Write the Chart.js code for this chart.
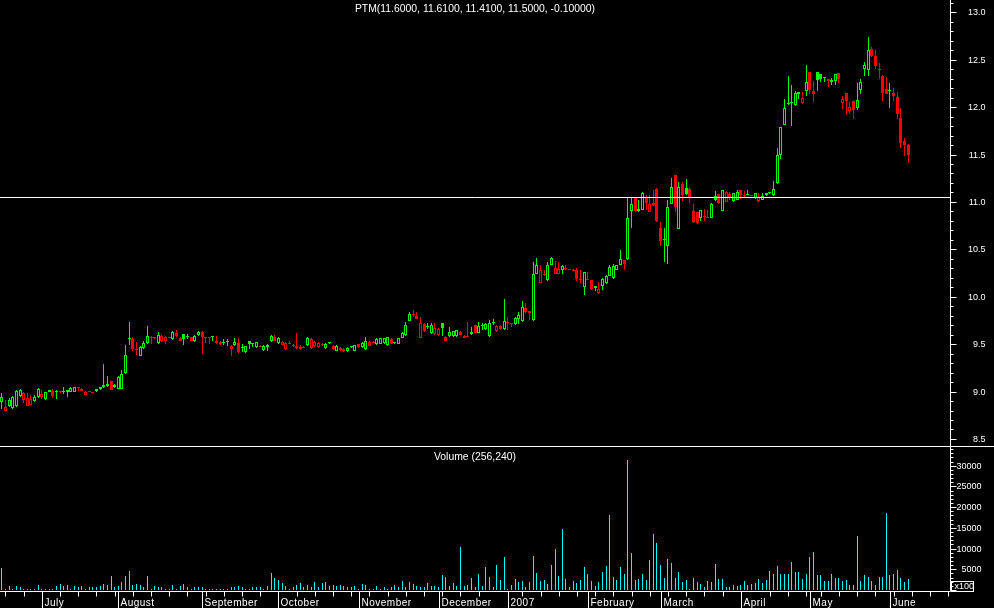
<!DOCTYPE html>
<html>
<head>
<meta charset="utf-8">
<script src="https://cdn.jsdelivr.net/npm/chart.js@4.4.1/dist/chart.umd.min.js"></script>
<style>
  html, body { margin: 0; padding: 0; background: #000; }
  #wrap { width: 994px; height: 608px; }
</style>
</head>
<body>
<div id="wrap"><canvas id="priceChart" width="994" height="608"></canvas></div>
<script>
// PTM daily candles, 16 June 2006 - 8 June 2007
const symbol = 'PTM';
const startDate = '2006-06-16';
const holidays = ['2006-12-25', '2006-12-26', '2007-01-01', '2007-04-06', '2007-04-09', '2007-05-01'];
const slotCount = 261; // trading days on the axis, the last ones stay empty
const monthNames = ['January', 'February', 'March', 'April', 'May', 'June', 'July',
  'August', 'September', 'October', 'November', 'December'];

const openPrices = [
  8.89, 8.79, 8.85, 8.83, 8.85, 8.95, 8.91, 8.85, 8.86, 8.90,
  8.94, 8.94, 8.92, 9.02, 9.01, 8.99, 8.99, 9.00, 9.00, 8.99,
  9.00, 9.04, 9.03, 8.96, 9.00, 9.00, 9.01, 9.03, 9.05, 9.06,
  9.11, 9.07, 9.03, 9.03, 9.20, 9.55, 9.55, 9.45, 9.38, 9.46,
  9.51, 9.58, 9.57, 9.51, 9.53, 9.53, 9.58, 9.55, 9.62, 9.57,
  9.61, 9.58, 9.58, 9.53, 9.60, 9.63, 9.58, 9.57, 9.58, 9.53,
  9.52, 9.51, 9.52, 9.45, 9.49, 9.51, 9.46, 9.42, 9.53, 9.50,
  9.47, 9.48, 9.44, 9.47, 9.53, 9.58, 9.51, 9.49, 9.45, 9.51,
  9.48, 9.46, 9.45, 9.47, 9.49, 9.46, 9.48, 9.47, 9.50, 9.46,
  9.51, 9.48, 9.43, 9.46, 9.45, 9.43, 9.47, 9.43, 9.50, 9.47,
  9.45, 9.48, 9.52, 9.50, 9.50, 9.51, 9.49, 9.55, 9.51, 9.50,
  9.57, 9.60, 9.74, 9.82, 9.80, 9.57, 9.71, 9.68, 9.62, 9.61,
  9.60, 9.72, 9.58, 9.59, 9.59, 9.59, 9.63, 9.57, 9.59, 9.61,
  9.70, 9.62, 9.69, 9.66, 9.59, 9.72, 9.64, 9.69, 9.66, 9.73,
  9.72, 9.71, 9.76, 9.74, 9.88, 9.85, 9.75, 10.24, 10.15, 10.24,
  10.18, 10.33, 10.24, 10.24, 10.28, 10.30, 10.29, 10.28, 10.28, 10.19,
  10.10, 10.19, 10.18, 10.11, 10.04, 10.11, 10.14, 10.22, 10.20, 10.28,
  10.33, 10.39, 10.40, 10.90, 11.04, 10.90, 10.92, 11.05, 10.89, 10.99,
  11.14, 10.73, 10.60, 10.54, 10.98, 11.28, 10.71, 11.19, 11.15, 11.14,
  10.90, 10.89, 10.83, 10.85, 10.84, 10.83, 11.06, 11.08, 10.90, 11.00,
  11.08, 11.01, 11.02, 11.13, 11.07, 11.07, 11.07, 11.04, 11.01, 11.02,
  11.07, 11.09, 11.07, 11.20, 11.49, 11.81, 12.03, 12.04, 12.02, 12.14,
  12.04, 12.17, 12.37, 12.17, 12.37, 12.35, 12.32, 12.30, 12.27, 12.28,
  12.36, 12.04, 12.15, 11.96, 12.06, 11.99, 12.18, 12.40, 12.39, 12.61,
  12.54, 12.40, 12.33, 12.19, 12.17, 12.15, 12.11, 11.89, 11.64, 11.60
];
const highPrices = [
  8.98, 8.91, 8.93, 8.95, 9.02, 9.03, 9.00, 8.98, 8.96, 8.96,
  9.04, 9.02, 9.00, 9.02, 9.03, 9.02, 9.00, 9.05, 9.02, 9.05,
  9.05, 9.05, 9.04, 9.01, 9.01, 9.00, 9.03, 9.05, 9.29, 9.16,
  9.11, 9.08, 9.16, 9.23, 9.49, 9.73, 9.58, 9.52, 9.48, 9.53,
  9.69, 9.59, 9.58, 9.63, 9.60, 9.59, 9.58, 9.64, 9.65, 9.58,
  9.61, 9.61, 9.58, 9.60, 9.64, 9.64, 9.58, 9.58, 9.59, 9.59,
  9.53, 9.55, 9.55, 9.49, 9.56, 9.57, 9.50, 9.48, 9.53, 9.51,
  9.52, 9.49, 9.49, 9.50, 9.60, 9.60, 9.58, 9.53, 9.52, 9.53,
  9.50, 9.62, 9.49, 9.48, 9.58, 9.57, 9.53, 9.52, 9.51, 9.51,
  9.52, 9.49, 9.49, 9.47, 9.46, 9.47, 9.48, 9.49, 9.50, 9.52,
  9.58, 9.53, 9.53, 9.56, 9.56, 9.57, 9.58, 9.56, 9.52, 9.57,
  9.63, 9.73, 9.84, 9.86, 9.84, 9.79, 9.72, 9.72, 9.72, 9.72,
  9.67, 9.72, 9.59, 9.68, 9.64, 9.65, 9.64, 9.60, 9.73, 9.68,
  9.70, 9.73, 9.72, 9.72, 9.75, 9.77, 9.70, 9.70, 9.98, 9.79,
  9.72, 9.79, 9.84, 9.95, 9.93, 9.85, 10.37, 10.41, 10.34, 10.28,
  10.37, 10.42, 10.38, 10.37, 10.33, 10.33, 10.29, 10.29, 10.30, 10.28,
  10.26, 10.26, 10.18, 10.11, 10.16, 10.20, 10.23, 10.33, 10.35, 10.34,
  10.49, 10.39, 11.04, 11.04, 11.04, 11.02, 11.11, 11.07, 11.07, 11.13,
  11.15, 10.79, 10.73, 11.02, 11.25, 11.28, 11.21, 11.21, 11.24, 11.15,
  10.98, 10.89, 10.91, 10.93, 10.91, 10.99, 11.12, 11.08, 11.13, 11.12,
  11.11, 11.09, 11.13, 11.13, 11.12, 11.13, 11.07, 11.09, 11.09, 11.09,
  11.09, 11.11, 11.22, 11.57, 11.79, 12.09, 12.33, 12.23, 12.17, 12.16,
  12.16, 12.44, 12.37, 12.28, 12.37, 12.35, 12.32, 12.30, 12.31, 12.35,
  12.36, 12.12, 12.15, 12.05, 12.06, 12.25, 12.30, 12.48, 12.74, 12.63,
  12.60, 12.47, 12.34, 12.32, 12.25, 12.20, 12.16, 11.99, 11.67, 11.61
];
const lowPrices = [
  8.82, 8.79, 8.84, 8.82, 8.84, 8.94, 8.88, 8.85, 8.86, 8.89,
  8.93, 8.92, 8.91, 8.99, 8.93, 8.92, 8.98, 8.97, 8.94, 8.99,
  8.99, 9.01, 9.01, 8.96, 8.99, 8.98, 9.00, 9.02, 9.04, 9.05,
  9.02, 9.04, 9.03, 9.03, 9.19, 9.49, 9.43, 9.39, 9.37, 9.45,
  9.50, 9.50, 9.55, 9.50, 9.52, 9.50, 9.56, 9.54, 9.58, 9.53,
  9.49, 9.55, 9.53, 9.52, 9.59, 9.40, 9.51, 9.50, 9.53, 9.50,
  9.49, 9.49, 9.48, 9.38, 9.48, 9.41, 9.42, 9.41, 9.45, 9.47,
  9.46, 9.47, 9.43, 9.43, 9.52, 9.53, 9.50, 9.49, 9.44, 9.50,
  9.47, 9.45, 9.44, 9.46, 9.48, 9.45, 9.47, 9.46, 9.48, 9.45,
  9.50, 9.44, 9.43, 9.43, 9.42, 9.42, 9.46, 9.43, 9.46, 9.46,
  9.44, 9.48, 9.51, 9.49, 9.50, 9.50, 9.48, 9.50, 9.50, 9.50,
  9.57, 9.59, 9.74, 9.79, 9.76, 9.57, 9.63, 9.66, 9.61, 9.60,
  9.59, 9.59, 9.53, 9.58, 9.58, 9.58, 9.60, 9.57, 9.58, 9.60,
  9.62, 9.62, 9.65, 9.65, 9.58, 9.70, 9.63, 9.65, 9.65, 9.65,
  9.68, 9.70, 9.71, 9.73, 9.83, 9.75, 9.74, 10.24, 10.14, 10.22,
  10.17, 10.33, 10.24, 10.24, 10.24, 10.28, 10.28, 10.27, 10.17, 10.14,
  10.02, 10.18, 10.07, 10.06, 10.03, 10.07, 10.13, 10.22, 10.19, 10.28,
  10.33, 10.28, 10.39, 10.73, 10.89, 10.89, 10.91, 10.91, 10.89, 10.96,
  10.79, 10.53, 10.37, 10.35, 10.98, 10.89, 10.71, 11.01, 11.07, 10.99,
  10.78, 10.77, 10.80, 10.80, 10.83, 10.83, 11.01, 10.98, 10.90, 11.00,
  11.02, 11.00, 11.02, 11.03, 11.05, 11.07, 11.06, 11.03, 11.00, 11.02,
  11.06, 11.08, 11.06, 11.19, 11.45, 11.81, 12.02, 11.80, 12.01, 12.09,
  12.03, 12.12, 12.14, 12.05, 12.17, 12.27, 12.27, 12.21, 12.23, 12.23,
  12.25, 11.98, 11.92, 11.93, 11.87, 11.97, 12.14, 12.33, 12.33, 12.53,
  12.40, 12.30, 12.06, 12.14, 11.99, 12.06, 11.87, 11.57, 11.48, 11.41
];
const closePrices = [
  8.94, 8.84, 8.91, 8.94, 9.01, 9.02, 8.98, 8.93, 8.92, 8.94,
  9.03, 8.97, 8.99, 9.00, 8.95, 9.01, 8.99, 9.01, 9.02, 9.04,
  9.05, 9.04, 9.01, 9.00, 8.99, 8.98, 9.03, 9.05, 9.07, 9.08,
  9.02, 9.05, 9.15, 9.18, 9.39, 9.56, 9.45, 9.44, 9.47, 9.51,
  9.59, 9.57, 9.56, 9.60, 9.59, 9.58, 9.57, 9.63, 9.59, 9.53,
  9.55, 9.59, 9.53, 9.59, 9.63, 9.58, 9.57, 9.56, 9.59, 9.51,
  9.50, 9.52, 9.53, 9.48, 9.52, 9.42, 9.47, 9.48, 9.50, 9.51,
  9.52, 9.47, 9.48, 9.49, 9.59, 9.53, 9.57, 9.52, 9.51, 9.50,
  9.49, 9.48, 9.47, 9.46, 9.57, 9.55, 9.52, 9.51, 9.49, 9.50,
  9.52, 9.45, 9.48, 9.44, 9.43, 9.46, 9.48, 9.49, 9.47, 9.51,
  9.53, 9.52, 9.51, 9.55, 9.56, 9.57, 9.58, 9.50, 9.52, 9.56,
  9.62, 9.70, 9.82, 9.81, 9.76, 9.72, 9.64, 9.69, 9.70, 9.67,
  9.66, 9.67, 9.53, 9.63, 9.64, 9.65, 9.60, 9.59, 9.58, 9.63,
  9.62, 9.69, 9.70, 9.71, 9.72, 9.73, 9.69, 9.66, 9.74, 9.72,
  9.71, 9.78, 9.81, 9.89, 9.84, 9.83, 10.24, 10.33, 10.28, 10.23,
  10.33, 10.41, 10.30, 10.29, 10.32, 10.29, 10.28, 10.27, 10.19, 10.18,
  10.26, 10.18, 10.08, 10.09, 10.08, 10.19, 10.22, 10.31, 10.32, 10.33,
  10.40, 10.35, 10.83, 10.98, 10.90, 10.93, 11.09, 10.99, 10.98, 10.97,
  10.80, 10.59, 10.61, 10.95, 11.16, 10.95, 11.16, 11.07, 11.08, 11.05,
  10.79, 10.78, 10.91, 10.84, 10.83, 10.98, 11.02, 10.99, 11.13, 11.11,
  11.04, 11.09, 11.10, 11.07, 11.06, 11.08, 11.06, 11.09, 11.05, 11.06,
  11.09, 11.10, 11.14, 11.49, 11.79, 11.99, 12.04, 12.05, 12.15, 12.16,
  12.10, 12.27, 12.18, 12.14, 12.29, 12.30, 12.31, 12.28, 12.29, 12.35,
  12.30, 12.09, 12.06, 12.00, 11.97, 12.07, 12.27, 12.44, 12.60, 12.54,
  12.43, 12.39, 12.15, 12.14, 12.18, 12.12, 11.93, 11.62, 11.60, 11.50
];
// volume, in hundreds of shares
const volumes = [
  5400, 200, 920, 200, 920, 690, 200, 200, 200, 200,
  1160, 200, 200, 200, 200, 920, 1390, 920, 1160, 200,
  920, 690, 920, 200, 690, 690, 690, 920, 1390, 1230,
  3280, 690, 920, 1860, 3280, 4590, 1160, 1390, 1160, 690,
  3280, 200, 920, 690, 690, 200, 200, 1160, 200, 920,
  1390, 690, 200, 690, 690, 690, 200, 200, 200, 200,
  200, 200, 200, 690, 690, 920, 690, 200, 200, 690,
  690, 690, 200, 920, 4200, 2800, 2330, 1620, 920, 200,
  690, 1160, 1620, 690, 1160, 690, 1860, 690, 1620, 1860,
  920, 1160, 920, 1160, 920, 690, 690, 920, 200, 1390,
  1160, 200, 200, 920, 200, 690, 200, 690, 1160, 690,
  2100, 690, 1860, 1390, 920, 690, 690, 1620, 920, 920,
  690, 3510, 3040, 920, 1620, 920, 10360, 920, 1160, 2800,
  690, 3980, 920, 5630, 3040, 690, 6150, 2410, 7990, 200,
  1160, 2570, 1940, 2250, 690, 1940, 8230, 4220, 2100, 2330,
  1390, 6100, 9870, 3280, 14830, 2570, 690, 2100, 1620, 2330,
  5630, 3750, 2100, 920, 1860, 4450, 5860, 18120, 3040, 2330,
  5630, 3980, 31340, 8940, 2330, 2570, 3750, 2330, 7290, 13420,
  11300, 6100, 2800, 7520, 6580, 2800, 4450, 1860, 2330, 200,
  2800, 1860, 1390, 690, 2100, 1860, 6340, 2570, 2570, 690,
  690, 1160, 920, 1160, 2100, 1160, 1390, 1620, 2570, 1620,
  2330, 4690, 3980, 5860, 3750, 3980, 3750, 6820, 4450, 4450,
  2570, 3980, 7990, 9170, 3510, 3510, 2100, 2100, 3750, 2800,
  2800, 2100, 2330, 1160, 1160, 12950, 2100, 3510, 3040, 2100,
  1160, 3040, 3040, 18590, 3510, 3750, 4930, 2800, 1860, 2562.4
];

const priceTicks = [8.5, 9.0, 9.5, 10.0, 10.5, 11.0, 11.5, 12.0, 12.5, 13.0];
const volumeTicks = [5000, 10000, 15000, 20000, 25000, 30000];
const lineLevel = 11.05; // horizontal line drawn across the price panel

const upColor = '#00ff00';
const downColor = '#ff0000';
const volColor = '#00ffff';
const axisFamily = '"Liberation Sans Narrow", "Arial Narrow", "Liberation Sans", Arial, sans-serif';
const textFamily = '"Liberation Sans", Arial, sans-serif';

// trading days (weekdays, exchange holidays left out)
function buildTradingDays(start, count, skip) {
  const days = [];
  const d = new Date(start + 'T00:00:00Z');
  while (days.length < count) {
    const dow = d.getUTCDay();
    const iso = d.toISOString().slice(0, 10);
    if (dow !== 0 && dow !== 6 && !skip.includes(iso)) days.push(new Date(d));
    d.setUTCDate(d.getUTCDate() + 1);
  }
  return days;
}
const tradingDays = buildTradingDays(startDate, slotCount, holidays);
const dayLabels = tradingDays.map(d => d.toISOString().slice(0, 10));

// green when the close is up on the day before, hollow when close > open
const barColors = closePrices.map((c, i) => (i === 0 || c >= closePrices[i - 1]) ? upColor : downColor);

const last = closePrices.length - 1;
const titleText = symbol + '(' + openPrices[last].toFixed(4) + ', ' + highPrices[last].toFixed(4) + ', ' +
  lowPrices[last].toFixed(4) + ', ' + closePrices[last].toFixed(4) + ', ' +
  (closePrices[last] - closePrices[last - 1]).toFixed(5) + ')';
const volumeTitle = 'Volume (' + Math.round(volumes[last] * 100).toLocaleString('en-US') + ')';

const axisWidth = 44;

function fixWidth(scale) {
  scale.width = axisWidth;
  scale.paddingTop = 0;
  scale.paddingBottom = 0;
}

const backdrop = {
  id: 'backdrop',
  beforeDraw(chart) {
    const ctx = chart.ctx;
    ctx.save();
    ctx.fillStyle = '#000';
    ctx.fillRect(0, 0, chart.width, chart.height);
    ctx.restore();
  }
};

// snap bars to whole pixels so the 1px wicks and 3px bodies stay sharp
const pixelSnap = {
  id: 'pixelSnap',
  beforeDatasetsDraw(chart) {
    chart.data.datasets.forEach((ds, di) => {
      chart.getDatasetMeta(di).data.forEach(el => {
        const w = Math.round(el.width);
        el.x = w % 2 ? Math.floor(el.x) + 0.5 : Math.round(el.x);
        el.y = Math.round(el.y);
        el.base = Math.round(el.base);
        if (Math.abs(el.base - el.y) < 1) el.y = el.base - 1;
      });
    });
  }
};

function tickMarks(ctx, scale, x0, from, to, step, majorStep) {
  const n = Math.round((to - from) / step);
  for (let k = 0; k <= n; k++) {
    const v = from + k * step;
    const py = Math.round(scale.getPixelForValue(v)) + 0.5;
    if (py < scale.top || py > scale.bottom) continue;
    const major = Math.abs(v / majorStep - Math.round(v / majorStep)) < 1e-6;
    ctx.moveTo(x0, py);
    ctx.lineTo(x0 + (major ? 6 : 3), py);
  }
}

function tickLabels(ctx, scale, values, xRight, fmt) {
  values.forEach(v => ctx.fillText(fmt(v), xRight, Math.round(scale.getPixelForValue(v)) + 1));
}

const frame = {
  id: 'frame',
  afterDraw(chart) {
    const {ctx, chartArea: area} = chart;
    const {x, y, yVol} = chart.scales;
    const axisX = Math.round(area.right) + 0.5;
    const bottom = Math.round(area.bottom) + 0.5;
    const split = Math.round(yVol.top) - 0.5;
    ctx.save();
    ctx.strokeStyle = '#ffffff';
    ctx.fillStyle = '#ffffff';
    ctx.lineWidth = 1;
    ctx.beginPath();
    const hy = Math.round(y.getPixelForValue(lineLevel)) + 0.5;
    ctx.moveTo(area.left, hy); ctx.lineTo(axisX, hy);
    ctx.moveTo(0, split); ctx.lineTo(chart.width, split);
    ctx.moveTo(axisX, 0); ctx.lineTo(axisX, bottom);
    ctx.moveTo(area.left, bottom); ctx.lineTo(axisX, bottom);
    tickMarks(ctx, y, axisX, 8.4, 13.1, 0.1, 0.5);
    tickMarks(ctx, yVol, axisX, 0, 34000, 1000, 5000);

    // value labels of both panels, right aligned
    ctx.font = '9px ' + axisFamily;
    ctx.textAlign = 'right';
    ctx.textBaseline = 'middle';
    tickLabels(ctx, y, priceTicks, axisX + 35, v => v.toFixed(1));
    tickLabels(ctx, yVol, volumeTicks, axisX + 31, v => String(v));

    // date axis: long tick at each month start, short tick on Mondays
    ctx.font = '10px ' + textFamily;
    ctx.textAlign = 'left';
    ctx.textBaseline = 'alphabetic';
    if ('letterSpacing' in ctx) ctx.letterSpacing = '0.5px';
    const labels = [];
    tradingDays.forEach((d, i) => {
      const px = Math.round(x.getPixelForValue(i)) + 0.5;
      const newMonth = i > 0 && d.getUTCMonth() !== tradingDays[i - 1].getUTCMonth();
      if (newMonth) {
        ctx.moveTo(px, bottom); ctx.lineTo(px, chart.height);
        const m = d.getUTCMonth();
        labels.push([m === 0 ? String(d.getUTCFullYear()) : monthNames[m], px + 2]);
      } else if (d.getUTCDay() === 1) {
        ctx.moveTo(px, bottom); ctx.lineTo(px, bottom + 5);
      }
    });
    ctx.stroke();
    labels.forEach(([t, lx]) => ctx.fillText(t, lx, chart.height - 2));
    if ('letterSpacing' in ctx) ctx.letterSpacing = '0px';

    // panel titles
    ctx.font = '10.4px ' + textFamily;
    ctx.textAlign = 'center';
    ctx.textBaseline = 'middle';
    const cx = (area.left + area.right) / 2;
    ctx.fillText(titleText, cx, 9);
    ctx.fillText(volumeTitle, cx, yVol.top + 10);

    // volume multiplier box
    ctx.beginPath();
    ctx.strokeRect(axisX + 1, bottom - 10, 22, 10);
    ctx.font = '9px ' + axisFamily;
    ctx.textAlign = 'left';
    ctx.fillText('x100', axisX + 4, bottom - 5);
    ctx.restore();
  }
};

new Chart(document.getElementById('priceChart'), {
  type: 'bar',
  data: {
    labels: dayLabels,
    datasets: [
      {
        label: 'body',
        data: openPrices.map((o, i) => [Math.min(o, closePrices[i]), Math.max(o, closePrices[i])]),
        yAxisID: 'y',
        backgroundColor: ctx => closePrices[ctx.dataIndex] < openPrices[ctx.dataIndex] ? barColors[ctx.dataIndex] : '#000000',
        borderColor: ctx => barColors[ctx.dataIndex],
        borderWidth: 1,
        borderSkipped: false,
        barThickness: 3,
        minBarLength: 1,
        inflateAmount: 0,
        grouped: false,
        order: 1
      },
      {
        label: 'range',
        data: highPrices.map((h, i) => [lowPrices[i], h]),
        yAxisID: 'y',
        backgroundColor: ctx => barColors[ctx.dataIndex],
        borderWidth: 0,
        barThickness: 1,
        minBarLength: 1,
        inflateAmount: 0,
        grouped: false,
        order: 2
      },
      {
        label: 'Volume',
        data: volumes,
        yAxisID: 'yVol',
        backgroundColor: volColor,
        borderWidth: 0,
        barThickness: 1,
        inflateAmount: 0,
        grouped: false,
        order: 3
      }
    ]
  },
  options: {
    responsive: false,
    animation: false,
    devicePixelRatio: 1,
    layout: { padding: { left: 0, right: 0, top: 0, bottom: 17 } },
    plugins: { legend: { display: false }, tooltip: { enabled: false } },
    scales: {
      x: { type: 'category', display: false, offset: true, grid: { display: false } },
      y: {
        position: 'right',
        stack: 'panes',
        stackWeight: 447,
        min: 8.415,
        max: 13.13,
        afterFit: fixWidth,
        afterBuildTicks: axis => { axis.ticks = priceTicks.map(v => ({ value: v })); },
        grid: { display: false, drawTicks: false },
        border: { display: false },
        ticks: { display: false }
      },
      yVol: {
        position: 'right',
        stack: 'panes',
        stackWeight: 144,
        min: -240,
        max: 34520,
        afterFit: fixWidth,
        afterBuildTicks: axis => { axis.ticks = volumeTicks.map(v => ({ value: v })); },
        grid: { display: false, drawTicks: false },
        border: { display: false },
        ticks: { display: false }
      }
    }
  },
  plugins: [backdrop, pixelSnap, frame]
});
</script>
</body>
</html>
